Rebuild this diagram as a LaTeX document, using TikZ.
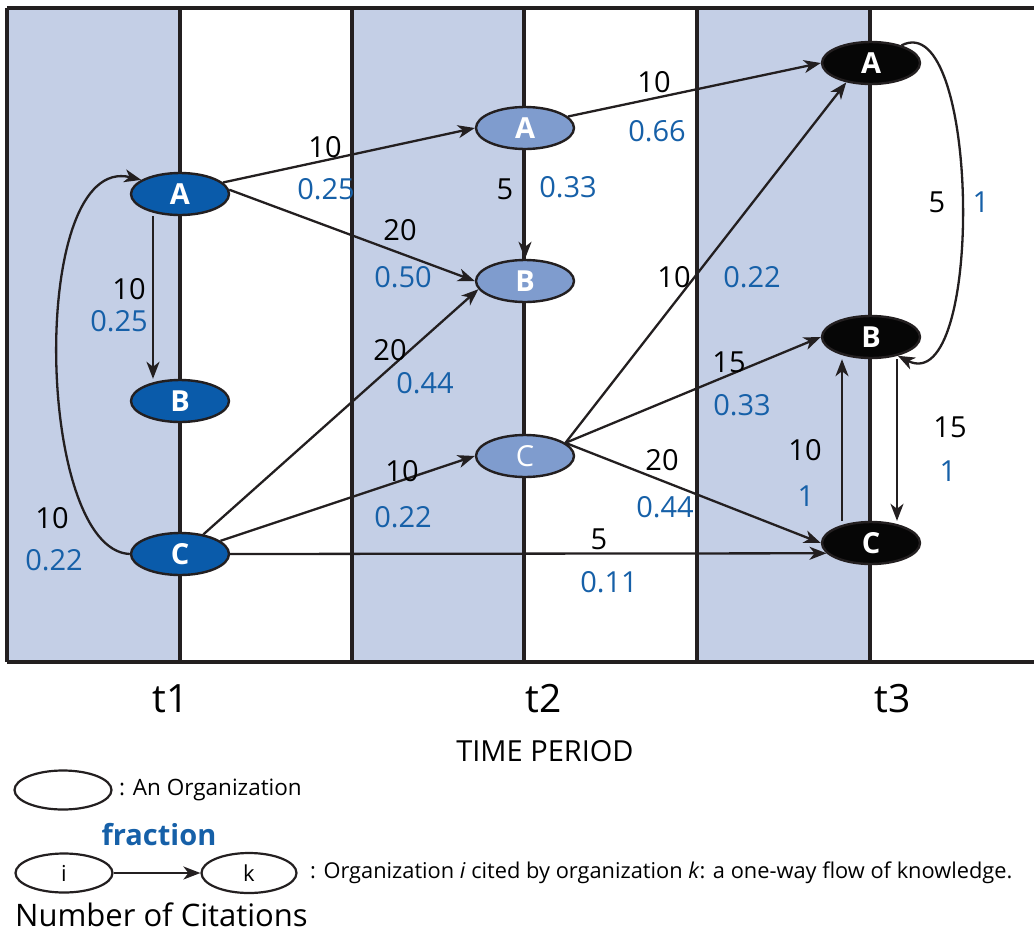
\documentclass[tikz,border=0pt]{standalone}
\usepackage{fontspec}
\setmainfont{Open Sans}
\usetikzlibrary{shapes.geometric,arrows.meta}
\definecolor{band}{HTML}{C4CFE6}
\definecolor{lbl}{HTML}{1660A8}
\definecolor{nA}{HTML}{0A5BAA}
\definecolor{nB}{HTML}{7F9CCE}
\definecolor{nC}{HTML}{060606}
\definecolor{ink}{HTML}{231F20}
\tikzset{
  org/.style={ellipse, draw=ink, line width=2.4pt, minimum width=98pt, minimum height=42pt,
    inner sep=0pt, text=white, font=\fontsize{29}{33}\selectfont\bfseries},
  oa/.style={org, fill=nA},
  ob/.style={org, fill=nB},
  oc/.style={org, fill=nC},
  flow/.style={draw=ink, line width=2.3pt, -{Stealth[length=17pt,width=13pt,inset=5pt]}},
  num/.style={font=\fontsize{29}{33}\selectfont, text=black, inner sep=0pt},
  frac/.style={font=\fontsize{29}{33}\selectfont, text=lbl, inner sep=0pt},
  sep/.style={draw=ink, line width=3.3pt},
  legorg/.style={ellipse, draw=ink, line width=2.2pt, fill=white, minimum width=97pt, minimum height=39pt,
    inner sep=0pt, font=\fontsize{22}{26}\selectfont},
  txt/.style={inner sep=0pt, text=black},
}
\begin{document}
\begin{tikzpicture}[x=1pt,y=-1pt]
\useasboundingbox (0,0) rectangle (1034,935);
% bands
\fill[band] (7,8) rectangle (180,662);
\fill[band] (352,8) rectangle (524,662);
\fill[band] (697,8) rectangle (870,662);
% frame and separators
\draw[sep] (7,8) -- (1034,8);
\draw[sep] (7,662) -- (1034,662);
\draw[sep] (7,8) -- (7,662);
\foreach \x in {180,352,524,697,870} \draw[sep] (\x,8) -- (\x,662);
% nodes
\node[oa] (a1) at (180,194) {A};
\node[oa] (b1) at (180,401) {B};
\node[oa] (c1) at (180,554) {C};
\node[ob] (a2) at (525,128) {A};
\node[ob] (b2) at (525,281) {B};
\node[ob, font=\fontsize{29}{33}\selectfont] (c2) at (525,456) {C};
\node[oc] (a3) at (871,63) {A};
\node[oc] (b3) at (871,337) {B};
\node[oc] (c3) at (871,543) {C};
% edges
\draw[flow] ([xshift=-27pt]a1.south) -- ([xshift=-27pt]b1.north);
\draw[flow] (c1.west) .. controls (35,550) and (28,152) .. (a1.160);
\draw[flow] (a1.15) -- (a2.west);
\draw[flow] (a1.5) -- (b2.west);
\draw[flow] (c1.40) -- (b2.190);
\draw[flow] (c1.18) -- (c2.west);
\draw[flow] (c1.east) -- (c3.193);
\draw[flow] (a2.south) -- (b2.north);
\draw[flow] (a2.15) -- (a3.west);
\draw[flow] (c2.18) -- (a3.218);
\draw[flow] (c2.18) -- (b3.west);
\draw[flow] (c2.18) -- (c3.west);
\draw[flow] ([xshift=-29pt]c3.north) -- ([xshift=-29pt]b3.south);
\draw[flow] ([xshift=26pt]b3.south) -- ([xshift=26pt]c3.north);
\draw[flow] (a3.30) .. controls (980,5) and (985,400) .. (b3.-35);
% labels
\node[num]  (n1)  at (325,147) {10};   \node[frac] (f1)  at (326,189) {0.25};
\node[num]  (n2)  at (400,230) {20};   \node[frac] (f2)  at (403,277) {0.50};
\node[num]  (n3)  at (129,289) {10};   \node[frac] (f3)  at (119,321) {0.25};
\node[num]  (n4)  at (52,518)  {10};   \node[frac] (f4)  at (54,560)  {0.22};
\node[num]  (n5)  at (390,350) {20};   \node[frac] (f5)  at (425,383) {0.44};
\node[num]  (n6)  at (402,471) {10};   \node[frac] (f6)  at (403,517) {0.22};
\node[num]  (n7)  at (599,539) {5};    \node[frac] (f7)  at (609,582) {0.11};
\node[num]  (n8)  at (505,189) {5};    \node[frac] (f8)  at (568,187) {0.33};
\node[num]  (n9)  at (654,82)  {10};   \node[frac] (f9)  at (657,131) {0.66};
\node[num]  (n10) at (674,277) {10};   \node[frac] (f10) at (752,277) {0.22};
\node[num]  (n11) at (729,362) {15};   \node[frac] (f11) at (742,405) {0.33};
\node[num]  (n12) at (662,460) {20};   \node[frac] (f12) at (665,507) {0.44};
\node[num]  (n13) at (805,450) {10};   \node[frac] (f13) at (806,496) {1};
\node[num]  (n14) at (950,427) {15};   \node[frac] (f14) at (948,471) {1};
\node[num]  (n15) at (937,202) {5};    \node[frac] (f15) at (981,202) {1};
% axis
\node[txt, font=\fontsize{39}{44}\selectfont] (t1) at (171,699) {t1};
\node[txt, font=\fontsize{39}{44}\selectfont] (t2) at (544,699) {t2};
\node[txt, font=\fontsize{39}{44}\selectfont] (t3) at (893,699) {t3};
\node[txt, font=\fontsize{29}{34}\selectfont] (tp) at (545,751) {TIME PERIOD};
% legend
\node[legorg] (lo) at (63,790) {};
\node[txt, anchor=west, font=\fontsize{22.5}{26}\selectfont] (lot) at (119,790) {: An Organization};
\node[txt, font=\fontsize{29}{33}\selectfont\bfseries, text=lbl] (lf) at (159,835) {fraction};
\node[legorg] (li) at (64,873) {i};
\node[legorg, minimum width=95pt, minimum height=40pt] (lk) at (249,873) {\raisebox{-5pt}{k}};
\draw[flow] (li.east) -- (lk.west);
\node[txt, anchor=west, font=\fontsize{21.8}{26}\selectfont] (lt) at (310,873) {: Organization \textit{i} cited by organization \textit{k}: a one-way flow of knowledge.};
\node[txt, anchor=base west, font=\fontsize{31}{36}\selectfont] (lnc) at (15,926) {Number of Citations};
\end{tikzpicture}
\end{document}
